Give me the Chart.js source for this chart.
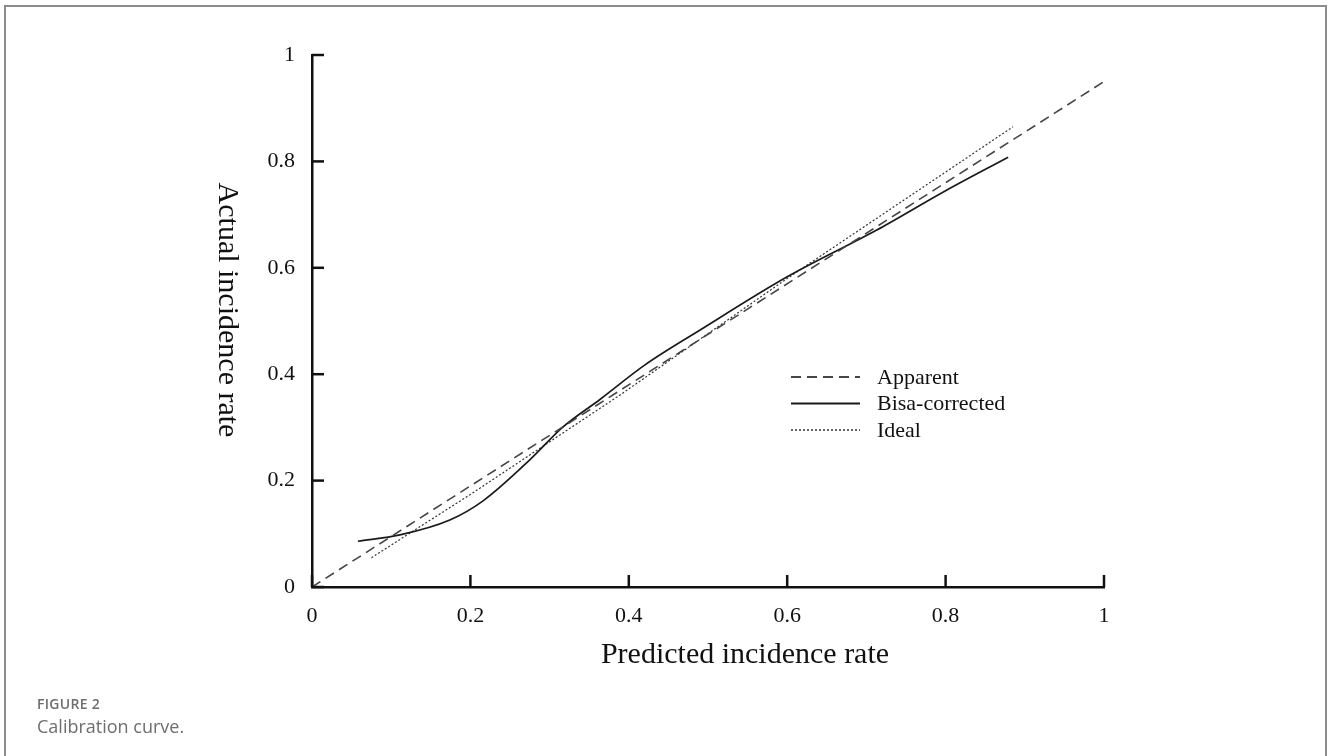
<!DOCTYPE html>
<html>
<head>
<meta charset="utf-8">
<script src="https://cdn.jsdelivr.net/npm/chart.js@4"></script>
<style>
  body { margin: 0; background: #fff; }
  #marco { position: absolute; left: 4px; top: 5px; width: 1319px; height: 800px;
           border: 2px solid #8c8c8c; border-bottom: none; }
  #grafico { position: absolute; left: 0; top: 0; }
  #pie { position: absolute; left: 37px; top: 695px; font-family: "Open Sans", sans-serif; color: #6e6e6e; }
  #pie .num { font-size: 14px; font-weight: 600; letter-spacing: 0.3px; line-height: 18px; }
  #pie .txt { font-size: 18px; line-height: 24px; margin-top: 1px; }
</style>
</head>
<body>
<div id="marco"></div>
<canvas id="grafico" width="1328" height="756"></canvas>
<div id="pie"><div class="num">FIGURE 2</div><div class="txt">Calibration curve.</div></div>
<script>
// datos
const etiquetas = ["Apparent", "Bisa-corrected", "Ideal"];
const ticksX = [0, 0.2, 0.4, 0.6, 0.8, 1];
const ticksY = [0, 0.2, 0.4, 0.6, 0.8, 1];
const textosTicks = ["0", "0.2", "0.4", "0.6", "0.8", "1"];
const aparente = [{x: 0, y: 0}, {x: 1, y: 0.95}];
const corregida = [
  {x: 0.058, y: 0.086}, {x: 0.111, y: 0.098}, {x: 0.174, y: 0.126}, {x: 0.216, y: 0.162},
  {x: 0.275, y: 0.239}, {x: 0.317, y: 0.301}, {x: 0.364, y: 0.353}, {x: 0.42, y: 0.417},
  {x: 0.49, y: 0.483}, {x: 0.6, y: 0.583}, {x: 0.713, y: 0.671}, {x: 0.8, y: 0.745},
  {x: 0.879, y: 0.808}
];
const ideal = [
  {x: 0.075, y: 0.055}, {x: 0.2, y: 0.174}, {x: 0.39, y: 0.362}, {x: 0.6, y: 0.58}, {x: 0.885, y: 0.865}
];

const serif = "'Liberation Serif', 'Times New Roman', serif";

// plugin: ticks hacia adentro, titulos de ejes y leyenda
const extras = {
  id: "extras",
  afterDraw(chart) {
    const ctx = chart.ctx;
    const area = chart.chartArea;
    const sx = chart.scales.x, sy = chart.scales.y;
    ctx.save();
    ctx.strokeStyle = "#111";
    ctx.lineWidth = 2.5;
    ticksX.forEach(v => {
      const px = sx.getPixelForValue(v);
      ctx.beginPath(); ctx.moveTo(px, area.bottom); ctx.lineTo(px, area.bottom - 12); ctx.stroke();
    });
    ticksY.forEach(v => {
      const py = sy.getPixelForValue(v);
      ctx.beginPath(); ctx.moveTo(area.left, py); ctx.lineTo(area.left + 12, py); ctx.stroke();
    });

    ctx.fillStyle = "#111";
    ctx.font = "30px " + serif;
    ctx.textAlign = "center";
    ctx.textBaseline = "middle";
    // titulo eje x (un poco corrido a la derecha como en la figura)
    ctx.fillText("Predicted incidence rate", (area.left + area.right) / 2 + 37, area.bottom + 68);
    // titulo del eje y, leido de arriba hacia abajo
    ctx.translate(area.left - 85, (area.top + area.bottom) / 2 - 11);
    ctx.rotate(Math.PI / 2);
    ctx.fillText("Actual incidence rate", 0, 0);
    ctx.restore();

    // leyenda dentro del area
    ctx.save();
    const x0 = area.left + 479, y0 = area.top + 322;
    chart.data.datasets.forEach((ds, i) => {
      const y = y0 + i * 26.5;
      ctx.strokeStyle = ds.borderColor;
      ctx.lineWidth = ds.borderWidth + 0.3;
      ctx.setLineDash(ds.borderDash || []);
      ctx.beginPath(); ctx.moveTo(x0, y); ctx.lineTo(x0 + 69, y); ctx.stroke();
      ctx.setLineDash([]);
      ctx.fillStyle = "#111";
      ctx.font = "22px " + serif;
      ctx.textAlign = "left";
      ctx.textBaseline = "middle";
      ctx.fillText(ds.label, x0 + 86, y + 1);
    });
    ctx.restore();
  }
};

const etiquetaTick = v => {
  const i = ticksX.findIndex(t => Math.abs(t - v) < 1e-9);
  return i >= 0 ? textosTicks[i] : "";
};

new Chart(document.getElementById("grafico"), {
  type: "scatter",
  data: {
    datasets: [
      { label: etiquetas[0], data: aparente, showLine: true, borderColor: "#454545",
        borderWidth: 1.6, borderDash: [10, 6], pointRadius: 0 },
      { label: etiquetas[1], data: corregida, showLine: true, borderColor: "#1a1a1a",
        borderWidth: 1.7, pointRadius: 0, tension: 0.4, cubicInterpolationMode: "monotone" },
      { label: etiquetas[2], data: ideal, showLine: true, borderColor: "#333",
        borderWidth: 1.2, borderDash: [2, 2], pointRadius: 0 }
    ]
  },
  options: {
    responsive: false,
    animation: false,
    devicePixelRatio: 1,
    layout: { padding: { top: 55, right: 224, left: 0, bottom: 0 } },
    plugins: { legend: { display: false }, tooltip: { enabled: false } },
    scales: {
      x: {
        type: "linear", min: 0, max: 1,
        afterFit: s => { s.height = 169; },
        afterBuildTicks: s => { s.ticks = ticksX.map(v => ({ value: v })); },
        grid: { display: false, drawTicks: false },
        border: { display: true, color: "#111", width: 2.5 },
        ticks: { padding: 16, color: "#111", font: { family: serif, size: 22 }, maxRotation: 0,
                 callback: etiquetaTick }
      },
      y: {
        type: "linear", min: 0, max: 1,
        afterFit: s => { s.width = 312; },
        afterBuildTicks: s => { s.ticks = ticksY.map(v => ({ value: v })); },
        grid: { display: false, drawTicks: false },
        border: { display: true, color: "#111", width: 2.5 },
        ticks: { padding: 17, color: "#111", font: { family: serif, size: 22 },
                 callback: etiquetaTick }
      }
    }
  },
  plugins: [extras]
});
</script>
</body>
</html>
